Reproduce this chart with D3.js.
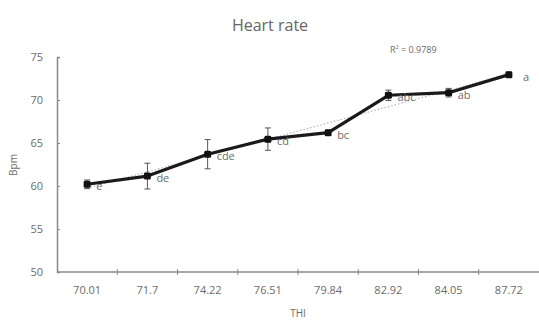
<!DOCTYPE html>
<html>
<head>
<meta charset="utf-8">
<script src="https://cdn.jsdelivr.net/npm/d3@7"></script>
<style>
  body { margin: 0; background: #fff; }
  svg { font-family: "Open Sans", "DejaVu Sans", sans-serif; -webkit-font-smoothing: antialiased; }
</style>
</head>
<body>
<svg id="chart" width="539" height="323"></svg>
<script>
// THI categories and heart rate means (bpm)
const thi = ["70.01", "71.7", "74.22", "76.51", "79.84", "82.92", "84.05", "87.72"];
const heartRate = [60.2, 61.15, 63.7, 65.45, 66.2, 70.55, 70.85, 72.95];
const errors = [0.5, 1.5, 1.7, 1.3, 0.3, 0.6, 0.5, 0.3];
const letters = ["e", "de", "cde", "cd", "bc", "abc", "ab", "a"];
const yTicks = [50, 55, 60, 65, 70, 75];

const svg = d3.select("#chart");
const margin = { top: 57, right: 0, bottom: 51, left: 57 };
const width = 539, height = 323;

const x = d3.scaleBand().domain(thi).range([margin.left, width - margin.right]);
const y = d3.scaleLinear().domain([50, 75]).range([height - margin.bottom, margin.top]);
const cx = d => x(d) + x.bandwidth() / 2;

const axisColor = "#8a8a8a";
const textColor = "#6b6b6b";

// title
svg.append("text")
    .attr("x", 270).attr("y", 31)
    .attr("text-anchor", "middle")
    .attr("font-size", 16)
    .attr("fill", "#666")
    .text("Heart rate");

// y axis (ticks pointing inside)
const yAxis = svg.append("g")
    .attr("transform", `translate(${margin.left},0)`)
    .call(d3.axisRight(y).tickValues(yTicks).tickSize(3).tickFormat(""));
yAxis.select(".domain").attr("stroke", axisColor).attr("stroke-width", 1.5);
yAxis.selectAll(".tick line").attr("stroke", axisColor);
svg.append("g").selectAll("text")
    .data(yTicks)
    .join("text")
    .attr("x", 43).attr("y", d => y(d) + 4)
    .attr("text-anchor", "end")
    .attr("font-size", 11)
    .attr("fill", textColor)
    .text(d => d);

// x axis with ticks between categories
const xBase = y(50);
svg.append("line")
    .attr("x1", margin.left).attr("x2", width)
    .attr("y1", xBase).attr("y2", xBase)
    .attr("stroke", axisColor).attr("stroke-width", 1.5);
svg.append("g").selectAll("line")
    .data(thi.slice(1))
    .join("line")
    .attr("x1", d => x(d)).attr("x2", d => x(d))
    .attr("y1", xBase - 3).attr("y2", xBase + 3)
    .attr("stroke", axisColor);
svg.append("g").selectAll("text")
    .data(thi)
    .join("text")
    .attr("x", d => cx(d)).attr("y", xBase + 22)
    .attr("text-anchor", "middle")
    .attr("font-size", 11)
    .attr("fill", textColor)
    .text(d => d);

// axis titles
svg.append("text")
    .attr("x", 298).attr("y", 317)
    .attr("text-anchor", "middle")
    .attr("font-size", 10)
    .attr("fill", textColor)
    .text("THI");
svg.append("text")
    .attr("transform", "translate(17,165) rotate(-90)")
    .attr("text-anchor", "middle")
    .attr("font-size", 10)
    .attr("fill", textColor)
    .text("Bpm");

// linear trendline (least squares over category index)
const n = heartRate.length;
const idx = d3.range(1, n + 1);
const mx = d3.mean(idx), my = d3.mean(heartRate);
const slope = d3.sum(idx, (xi, i) => (xi - mx) * (heartRate[i] - my)) / d3.sum(idx, xi => (xi - mx) ** 2);
const icpt = my - slope * mx;
svg.append("line")
    .attr("x1", cx(thi[0])).attr("y1", y(icpt + slope * 1))
    .attr("x2", cx(thi[n - 1])).attr("y2", y(icpt + slope * n))
    .attr("stroke", "#a9b8c8")
    .attr("stroke-width", 1.2)
    .attr("stroke-dasharray", "1.5,2");

svg.append("text")
    .attr("x", 390).attr("y", 53)
    .attr("font-size", 9)
    .attr("fill", textColor)
    .text("R² = 0.9789");

// error bars
const eb = svg.append("g").attr("stroke", "#555").attr("stroke-width", 1);
thi.forEach((t, i) => {
  const xc = cx(t);
  eb.append("line").attr("x1", xc).attr("x2", xc)
    .attr("y1", y(heartRate[i] - errors[i])).attr("y2", y(heartRate[i] + errors[i]));
  [heartRate[i] - errors[i], heartRate[i] + errors[i]].forEach(v => {
    eb.append("line").attr("x1", xc - 3).attr("x2", xc + 3)
      .attr("y1", y(v)).attr("y2", y(v));
  });
});

// main line
const line = d3.line()
    .x((d, i) => cx(thi[i]))
    .y(d => y(d));
svg.append("path")
    .datum(heartRate)
    .attr("fill", "none")
    .attr("stroke", "#1a1a1a")
    .attr("stroke-width", 3.2)
    .attr("stroke-linejoin", "round")
    .attr("d", line);

// markers
svg.append("g").selectAll("rect")
    .data(heartRate)
    .join("rect")
    .attr("x", (d, i) => cx(thi[i]) - 3.5)
    .attr("y", d => y(d) - 3.5)
    .attr("width", 7).attr("height", 7)
    .attr("rx", 1.5)
    .attr("fill", "#111");

// significance letters
svg.append("g").selectAll("text")
    .data(letters)
    .join("text")
    .attr("x", (d, i) => cx(thi[i]) + (i === n - 1 ? 14 : 9))
    .attr("y", (d, i) => y(heartRate[i]) + 6)
    .attr("font-size", 11)
    .attr("fill", textColor)
    .text(d => d);
</script>
</body>
</html>
